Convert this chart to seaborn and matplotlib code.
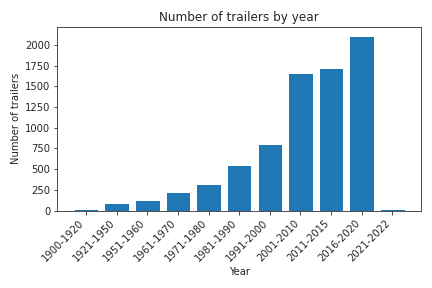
import matplotlib
matplotlib.use("Agg")
import matplotlib.pyplot as plt
import seaborn as sns
import pandas as pd

periods = ["1900-1920", "1921-1950", "1951-1960", "1961-1970", "1971-1980",
           "1981-1990", "1991-2000", "2001-2010", "2011-2015", "2016-2020",
           "2021-2022"]
counts = [15, 88, 133, 229, 326, 547, 809, 1666, 1726, 2113, 15]

df = pd.DataFrame({"period": periods, "count": counts})

sns.set_style("ticks")
plt.rcParams["font.family"] = ["DejaVu Sans"]

fig, ax = plt.subplots(figsize=(6, 4), dpi=72)
sns.barplot(data=df, x="period", y="count", color="#1f77b4", saturation=1,
            width=0.8, ax=ax)

# same x margins as a plain plt.bar
n = len(periods)
pad = 0.05 * (n - 0.2)
ax.set_xlim(-0.4 - pad, n - 0.6 + pad)

ax.set_title("Number of trailers by year")
ax.set_xlabel("Year")
ax.set_ylabel("Number of trailers")
plt.xticks(rotation=45, ha="right")

plt.tight_layout()
plt.savefig("out.png", dpi=72)
